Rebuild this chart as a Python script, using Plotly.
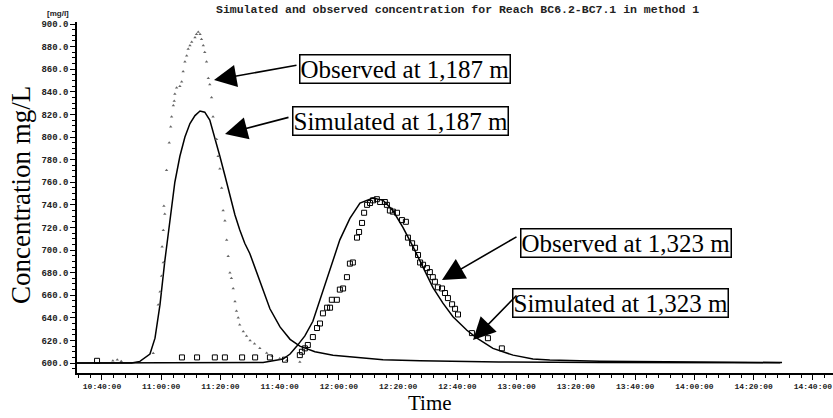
import plotly.graph_objects as go

DAY = "2000-01-01 "

# Simulated at 1,187 m (solid line)
sim1187_t = ["10:30:00", "10:50:00", "10:52:48", "10:56:12", "10:57:54", "10:59:36", "11:01:12",
             "11:02:54", "11:04:36", "11:06:18", "11:08:00", "11:09:42", "11:11:24", "11:13:06",
             "11:14:42", "11:16:24", "11:18:06", "11:19:48", "11:21:30", "11:23:12", "11:24:54",
             "11:26:30", "11:28:12", "11:29:54", "11:33:18", "11:36:42", "11:40:06", "11:43:30",
             "11:46:48", "11:51:54", "11:58:00", "12:05:24", "12:14:54", "12:27:24", "12:54:00",
             "13:28:00", "14:29:00"]
sim1187_v = [600, 600, 601.5, 608, 622, 652, 690,
             726, 760, 783, 800, 812, 819, 823,
             822, 815, 800, 783, 766, 749, 731,
             718, 706, 697, 672, 648, 632, 621,
             615, 610, 607, 605, 603, 602, 601,
             600.5, 600.3]

# Simulated at 1,323 m (solid line)
sim1323_t = ["10:30:00", "11:20:00", "11:34:24", "11:41:06", "11:43:30", "11:45:48", "11:48:30",
             "11:51:12", "11:53:36", "11:57:00", "12:00:18", "12:03:42", "12:07:06", "12:11:30",
             "12:14:54", "12:18:12", "12:21:36", "12:25:00", "12:28:24", "12:31:42", "12:35:06",
             "12:38:30", "12:43:12", "12:46:36", "12:52:00", "12:58:48", "13:05:30", "13:11:12",
             "13:28:06", "14:01:54", "14:29:36"]
sim1323_v = [600, 600, 600.5, 603.5, 608, 615, 624,
             637, 656, 682, 709, 728, 741.6, 746,
             744, 735, 720, 703, 685, 667, 653,
             641, 629, 622, 613, 607, 603.5, 602.6,
             601.5, 600.8, 600.5]

# Observed at 1,187 m (small triangles)
obs1187_t = ["10:43:40", "10:45:10", "10:46:30", "10:57:18", "10:59:00", "10:59:36", "11:00:06",
             "11:00:42", "11:00:18", "11:00:42", "11:01:12", "11:00:54", "11:01:48", "11:02:42",
             "11:03:12", "11:03:30", "11:04:06", "11:04:24", "11:04:36", "11:05:12", "11:06:18",
             "11:06:54", "11:07:24", "11:08:00", "11:08:36", "11:09:06", "11:09:42", "11:10:18",
             "11:11:24", "11:11:54", "11:12:30", "11:13:06", "11:13:36", "11:14:12", "11:14:42",
             "11:15:18", "11:15:54", "11:16:24", "11:17:00", "11:17:30", "11:18:42", "11:19:12",
             "11:19:48", "11:20:24", "11:20:54", "11:21:30", "11:22:06", "11:22:36", "11:23:12",
             "11:23:42", "11:24:18", "11:24:54", "11:25:24", "11:26:00", "11:26:30", "11:27:42",
             "11:28:48", "11:30:00", "11:31:30", "11:33:18", "11:35:36", "11:37:24", "11:40:00",
             "11:42:24", "11:46:48"]
obs1187_v = [602, 603, 601.5, 608.6, 651.6, 663, 677,
             689, 703, 717.5, 732, 739, 770.6, 795,
             809, 818, 828, 832, 838, 843.6, 845,
             849, 858, 866.6, 872, 878, 881, 884,
             888, 891, 893, 891, 886.6, 881, 875,
             866.6, 852, 846.5, 835, 818, 798, 783,
             772, 755, 735, 726, 709, 694.6, 680,
             675, 666, 654.5, 646, 640, 634, 628,
             624, 620, 617, 613, 609, 606, 604,
             602.5, 601]

# Observed at 1,323 m (open squares)
obs1323_t = ["10:38:20", "11:07:00", "11:12:06", "11:18:06", "11:21:30", "11:27:18", "11:31:42",
             "11:36:42", "11:41:48", "11:46:48", "11:47:30", "11:48:30", "11:49:30", "11:51:12",
             "11:52:36", "11:53:36", "11:54:36", "11:56:00", "11:57:00", "11:57:36", "11:59:18",
             "12:00:18", "12:01:24", "12:02:42", "12:03:42", "12:04:42", "12:06:06", "12:06:48",
             "12:07:48", "12:08:30", "12:09:30", "12:10:30", "12:11:30", "12:12:48", "12:13:54",
             "12:15:30", "12:16:12", "12:17:12", "12:18:12", "12:19:36", "12:21:18", "12:22:36",
             "12:23:18", "12:24:42", "12:25:42", "12:26:42", "12:27:24", "12:28:24", "12:29:42",
             "12:30:42", "12:31:42", "12:32:24", "12:33:24", "12:34:48", "12:35:48", "12:36:48",
             "12:38:12", "12:39:12", "12:40:12", "12:44:54", "12:50:18", "12:55:00"]
obs1323_v = [602, 605, 605, 605, 605, 605, 605,
             605, 603, 607, 610, 613, 616, 623,
             631, 635, 644, 649, 649, 656, 656,
             665, 666, 676, 688, 689, 711, 716,
             724, 733, 740, 741.6, 744, 745, 742.5,
             742.5, 740, 735, 734, 733, 726.5, 725,
             711, 706, 702, 695.6, 689, 687, 684,
             680.5, 676, 672, 667, 666, 662, 657.5,
             652, 648, 643, 626.5, 622, 613]

title_text = "Simulated and observed concentration for Reach BC6.2-BC7.1 in method 1"
unit_text = "[mg/l]"
y_title = "Concentration mg/L"
x_title = "Time"
labels = ["Observed at 1,187 m", "Simulated at 1,187 m", "Observed at 1,323 m", "Simulated at 1,323 m"]


def ts(lst):
    return [DAY + t for t in lst]


fig = go.Figure()
fig.add_trace(go.Scatter(x=ts(sim1187_t), y=sim1187_v, mode="lines",
                         line=dict(color="black", width=1.5), name=labels[1]))
fig.add_trace(go.Scatter(x=ts(sim1323_t), y=sim1323_v, mode="lines",
                         line=dict(color="black", width=1.5), name=labels[3]))
fig.add_trace(go.Scatter(x=ts(obs1187_t), y=obs1187_v, mode="markers",
                         marker=dict(symbol="triangle-up", size=3, color="#666666"), name=labels[0]))
fig.add_trace(go.Scatter(x=ts(obs1323_t), y=obs1323_v, mode="markers",
                         marker=dict(symbol="square-open", size=5, color="black",
                                     line=dict(width=1, color="black")), name=labels[2]))

W, H = 833, 418
# plot area in page pixels
L, R, T, B = 77, 833, 22, 373
PW, PH = R - L, B - T


def px(x):
    return (x - L) / PW


def py(y):
    return (B - y) / PH


xtickfont = dict(family="Liberation Mono", size=8, color="#222222", weight="bold")
ytickfont = dict(family="Liberation Mono", size=9, color="#222222", weight="bold")

anns = []
# text boxes
for txt, cx, cy in [(labels[0], 405, 69), (labels[1], 400, 121),
                    (labels[2], 626, 243), (labels[3], 620, 303)]:
    anns.append(dict(text=txt, xref="paper", yref="paper", x=px(cx), y=py(cy),
                     xanchor="center", yanchor="middle", showarrow=False,
                     font=dict(family="Liberation Serif", size=25, color="black"),
                     bgcolor="white", bordercolor="black", borderwidth=1.5, borderpad=0))
# arrows
for (tx, ty), (sx, sy) in [((214, 80), (298, 65)), ((225, 134), (290, 117)),
                           ((442, 280), (518, 236)), ((473, 340), (518, 294))]:
    anns.append(dict(text="", xref="paper", yref="paper", x=px(tx), y=py(ty),
                     ax=sx - tx, ay=sy - ty, showarrow=True, arrowhead=2,
                     arrowsize=2.8, arrowwidth=1.6, arrowcolor="black", standoff=0))
# titles
anns.append(dict(text=title_text, xref="paper", yref="paper", x=px(457), y=py(9),
                 showarrow=False, xanchor="center", yanchor="middle",
                 font=dict(family="Liberation Mono", size=11.5, color="#222222", weight="bold")))
anns.append(dict(text=unit_text, xref="paper", yref="paper", x=px(58), y=py(14),
                 showarrow=False, xanchor="center", yanchor="middle",
                 font=dict(family="Liberation Sans", size=8, color="#222222", weight="bold")))
anns.append(dict(text=y_title, xref="paper", yref="paper", x=px(21), y=py(195),
                 showarrow=False, xanchor="center", yanchor="middle", textangle=-90,
                 font=dict(family="Liberation Serif", size=27, color="black")))
anns.append(dict(text=x_title, xref="paper", yref="paper", x=px(430), y=py(403),
                 showarrow=False, xanchor="center", yanchor="middle",
                 font=dict(family="Liberation Serif", size=21, color="black")))

fig.update_layout(
    width=W, height=H,
    margin=dict(l=L, r=W - R, t=T, b=H - B, pad=0),
    plot_bgcolor="white", paper_bgcolor="white",
    showlegend=False,
    annotations=anns,
    xaxis=dict(type="date", range=[DAY + "10:31:34", DAY + "14:46:48"],
               tick0=DAY + "10:40:00", dtick=20 * 60 * 1000, tickformat="%H:%M:%S",
               showgrid=False, zeroline=False, showline=True, linecolor="black", linewidth=1.5,
               ticks="outside", ticklen=5, tickwidth=1, tickcolor="black", tickfont=xtickfont,
               minor=dict(dtick=4 * 60 * 1000, ticks="outside", ticklen=3, tickcolor="black", showgrid=False)),
    yaxis=dict(range=[591.2, 901.8], tick0=600, dtick=20, tickformat=".1f",
               showgrid=False, zeroline=False, showline=True, linecolor="black", linewidth=1.5,
               ticks="outside", ticklen=5, tickwidth=1, tickcolor="black", tickfont=ytickfont,
               minor=dict(dtick=5, ticks="outside", ticklen=3, tickcolor="black", showgrid=False)),
)

fig.write_html("out.html", config={"displayModeBar": False},
               post_script="document.body.style.margin='0';document.body.style.padding='0';")
